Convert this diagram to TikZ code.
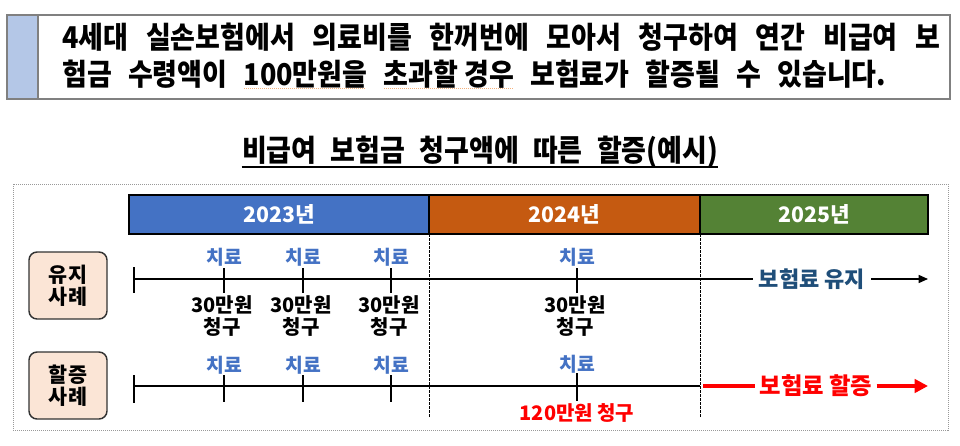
\documentclass[tikz,border=0pt]{standalone}
\usepackage{fontspec}
\setmainfont{Noto Sans CJK KR}
\newfontfamily\notefont{Noto Sans CJK KR}[FakeStretch=0.9]
\usetikzlibrary{arrows.meta}
\definecolor{yrblue}{HTML}{4472C4}
\definecolor{yrorange}{HTML}{C55A11}
\definecolor{yrgreen}{HTML}{548235}
\definecolor{stripblue}{HTML}{B4C7E7}
\definecolor{casefill}{HTML}{FBE5D6}
\definecolor{keepblue}{HTML}{1F4E79}
\definecolor{ulorange}{HTML}{F4B07A}
\definecolor{raisered}{HTML}{FF0000}
% dotted orange underline, as in the reference text
\newcommand\dotul[1]{\setbox0=\hbox{#1}\rlap{\raisebox{-2.5pt}{\textcolor{ulorange}{\leaders\hbox to 1.5pt{\hss\rule{0.8pt}{0.5pt}\hss}\hskip\wd0}}}\box0\relax}
\tikzset{
  yearbar/.style={draw=black, line width=0.9pt},
  yeartext/.style={text=white, font=\fontsize{16}{19}\selectfont\bfseries},
  casebox/.style={draw=black!80, line width=1.1pt, fill=casefill, rounded corners=6pt},
  casetext/.style={align=center, font=\fontsize{15.5}{16.5}\selectfont\bfseries},
  treat/.style={text=yrblue, inner sep=0, font=\fontsize{14.5}{17}\selectfont\bfseries},
  claim/.style={align=center, inner sep=0, font=\fontsize{15}{16}\selectfont\bfseries},
  timeline/.style={line width=1.1pt},
  tickline/.style={line width=1.3pt},
  yearsplit/.style={line width=0.7pt, dash pattern=on 2pt off 1pt},
}
\begin{document}
\begin{tikzpicture}[x=0.75pt, y=-0.75pt]
\useasboundingbox (0,0) rectangle (960,446);

% top note
\draw[draw=black!50, line width=0.8pt] (7,15) rectangle (950,99);
\draw[draw=black!50, line width=0.8pt, fill=stripblue] (7,15) rectangle (38,99);
\node[anchor=base west, inner sep=0, font=\notefont\fontsize{22.5}{26}\selectfont\bfseries] (note1) at (62,48)
  {\makebox[658.5pt][s]{4세대 실손보험에서 의료비를 한꺼번에 모아서 청구하여 연간 비급여 보}};
\node[anchor=base west, inner sep=0, font=\notefont\fontsize{22.5}{26}\selectfont\bfseries] (note2) at (62,85)
  {\makebox[618pt][s]{험금 수령액이 \dotul{100만원을} \dotul{초과할 경우} 보험료가 할증될 수 있습니다.}};

% title
\node[anchor=base, inner sep=0, font=\notefont\fontsize{22.5}{26}\selectfont\bfseries] (title) at (480,161)
  {\makebox[357pt][s]{비급여 보험금 청구액에 따른 할증(예시)}};
\draw[line width=1pt] ([yshift=-4.5pt]title.base west) -- ([yshift=-4.5pt]title.base east);

% frame
\draw[black!40, line width=0.75pt, dash pattern=on 0.75pt off 0.75pt] (13,184) rectangle (948,430);

% years
\draw[yearbar, fill=yrblue] (129,195) rectangle node[yeartext] (y23) {2023년} (429,234);
\draw[yearbar, fill=yrorange] (429,195) rectangle node[yeartext] (y24) {2024년} (700,234);
\draw[yearbar, fill=yrgreen] (700,195) rectangle node[yeartext] (y25) {2025년} (928,234);
\foreach \x in {429,700}{
    \draw[yearsplit] (\x,234) -- (\x,417);
}

% case boxes
\draw[casebox] (29,252) rectangle node[casetext] (keepcase) {유지\\사례} (107,319);
\draw[casebox] (29,352) rectangle node[casetext] (raisecase) {할증\\사례} (107,419);

% keep row
\coordinate (k0) at (134,279);
\coordinate (kend) at (928,279);
\node[text=keepblue, inner xsep=4.5pt, font=\fontsize{16.5}{19}\selectfont\bfseries] (keep) at (812,279) {보험료 유지};
\draw[timeline] (k0) -- (keep.west);
\draw[timeline, -{Triangle[length=7pt,width=6pt]}] (keep.east) -- (kend);
\draw[tickline] (134,267) -- (134,293);
\foreach \x in {224,303,391,577}{
    \draw[tickline] (\x,268) -- (\x,293);
    \node[treat] (kt\x) at (\x,257) {치료};
}
\foreach \x in {224,303,391,577}{
    \node[claim] (kc\x) at (\x-2,316) {30만원\\청구};
}

% raise row
\coordinate (r0) at (134,386);
\coordinate (r1) at (700,386);
\coordinate (r2) at (703,386);
\coordinate (rend) at (928,386);
\node[text=raisered, inner xsep=3pt, font=\fontsize{17.5}{20}\selectfont\bfseries] (raise) at (816,386) {보험료 할증};
\draw[timeline] (r0) -- (r1);
\draw[raisered, line width=3pt] (r2) -- (raise.west);
\draw[raisered, line width=3pt, -{Triangle[length=10pt,width=10pt]}] (raise.east) -- (rend);
\draw[tickline] (134,375) -- (134,403);
\foreach \x in {224,303,391}{
    \draw[tickline] (\x,375) -- (\x,402);
    \node[treat] (rt\x) at (\x,365) {치료};
}
\draw[tickline] (577,373) -- (577,401);
\node[treat] (rt577) at (577,364) {치료};
\node[claim, text=raisered] (rc577) at (577,413) {120만원 청구};
\end{tikzpicture}
\end{document}
